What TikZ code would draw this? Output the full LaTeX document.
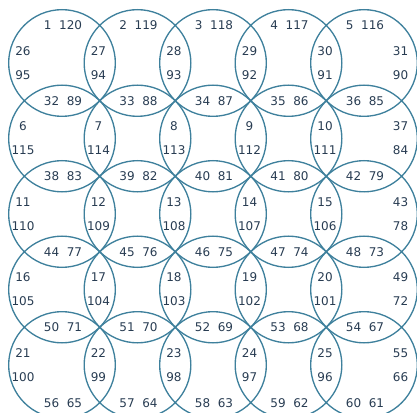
\documentclass[tikz,border=0pt]{standalone}
\usepackage{fontspec}
\setmainfont{DejaVu Sans}
\usepackage{xcolor}
\definecolor{ringblue}{RGB}{62,128,156}
\definecolor{numink}{RGB}{40,60,82}

\begin{document}
\begin{tikzpicture}[x=0.75pt, y=-0.75pt]
    \def\S{75.5}
    \def\R{40pt}
    \tikzset{ring/.style={color=ringblue, line width=1pt},
             num/.style={text=numink, inner sep=0pt, font=\fontsize{9}{10}\selectfont}}
    \useasboundingbox (0,0) rectangle (417,413);
    \clip (0,0) rectangle (417,413);
    % Circles
    \foreach \i in {0,...,4}
      \foreach \j in {0,...,4}
        \draw[ring] ({62+\S*\i},{63+\S*\j}) circle (\R);
    % Pairs along the rows (top, lenses, bottom)
    \foreach \a [count=\k from 0] in {1,32,38,44,50,56}
      \foreach \i in {0,...,4} {
        \pgfmathtruncatemacro\lo{\a+\i}
        \pgfmathtruncatemacro\hi{121-\lo}
        \node[num] (h-\k-\i) at ({63+\S*\i},{25.5+\S*\k}) {\lo\ \ \hi};
      }
    % Pairs along the columns (left, lenses, right)
    \foreach \row [count=\j from 0] in {{26,27,28,29,30,31},{6,7,8,9,10,37},
        {11,12,13,14,15,43},{16,17,18,19,20,49},{21,22,23,24,25,55}}
      \foreach \a [count=\k from 0] in \row {
        \pgfmathtruncatemacro\hi{121-\a}
        \node[num] (vt-\j-\k) at ({23+\S*\k},{51+\S*\j}) {\a};
        \node[num] (vb-\j-\k) at ({23+\S*\k},{75+\S*\j}) {\hi};
      }
\end{tikzpicture}
\end{document}
